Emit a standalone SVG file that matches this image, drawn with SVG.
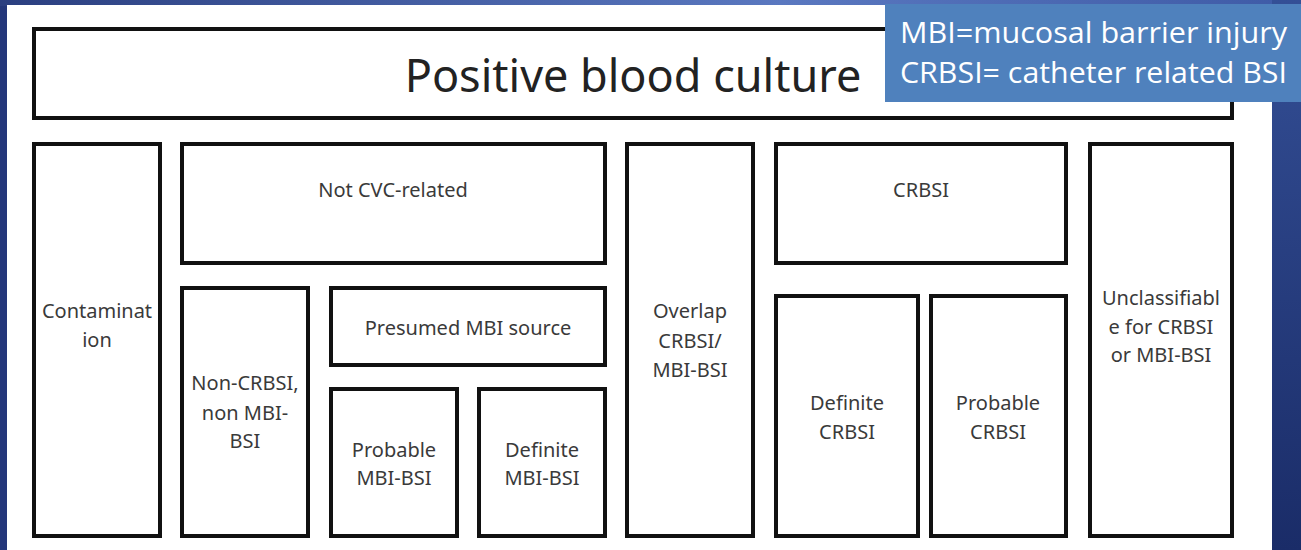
<svg xmlns="http://www.w3.org/2000/svg" width="1301" height="550" viewBox="0 0 1301 550">
  <defs>
    <linearGradient id="topbar" x1="0" y1="0" x2="1" y2="0">
      <stop offset="0" stop-color="#2b3f80"/>
      <stop offset="0.6" stop-color="#5a78c0"/>
      <stop offset="1" stop-color="#3e5aa6"/>
    </linearGradient>
    <linearGradient id="rightbar" x1="0" y1="0" x2="0" y2="1">
      <stop offset="0" stop-color="#344f96"/>
      <stop offset="1" stop-color="#1a2c68"/>
    </linearGradient>
    <style>
      .box { fill: #ffffff; stroke: #111111; stroke-width: 4; }
      .lbl { font-family: "Noto Sans", "Liberation Sans", sans-serif; font-size: 20px; fill: #3a3a3a; text-anchor: middle; }
      .title { font-family: "Noto Sans", "Liberation Sans", sans-serif; font-size: 45px; fill: #222222; text-anchor: middle; }
      .legend { font-family: "Open Sans", "Liberation Sans", sans-serif; font-size: 30px; fill: #ffffff; }
    </style>
  </defs>

  <!-- slide background -->
  <rect x="0" y="0" width="1301" height="550" fill="#24377a"/>
  <rect x="0" y="0" width="1301" height="6" fill="url(#topbar)"/>
  <rect x="1272" y="0" width="29" height="550" fill="url(#rightbar)"/>
  <rect x="7" y="5" width="1265" height="545" fill="#ffffff"/>

  <g id="connectors"></g>

  <g id="positive-blood-culture">
    <rect class="box" x="34" y="29" width="1198" height="89"/>
    <text class="title" x="633" y="92">Positive blood culture</text>
  </g>

  <g id="contamination">
    <rect class="box" x="34" y="144" width="126" height="392"/>
    <text class="lbl" x="97" y="318">Contaminat</text>
    <text class="lbl" x="97" y="347">ion</text>
  </g>

  <g id="not-cvc-related">
    <rect class="box" x="182" y="144" width="423" height="119"/>
    <text class="lbl" x="393" y="197">Not CVC-related</text>
  </g>

  <g id="non-crbsi">
    <rect class="box" x="182" y="288" width="126" height="248"/>
    <text class="lbl" x="245" y="390">Non-CRBSI,</text>
    <text class="lbl" x="245" y="420">non MBI-</text>
    <text class="lbl" x="245" y="448">BSI</text>
  </g>

  <g id="presumed-mbi">
    <rect class="box" x="331" y="288" width="274" height="77"/>
    <text class="lbl" x="468" y="335">Presumed MBI source</text>
  </g>

  <g id="probable-mbi">
    <rect class="box" x="331" y="389" width="126" height="147"/>
    <text class="lbl" x="394" y="457">Probable</text>
    <text class="lbl" x="394" y="485">MBI-BSI</text>
  </g>

  <g id="definite-mbi">
    <rect class="box" x="479" y="389" width="126" height="147"/>
    <text class="lbl" x="542" y="457">Definite</text>
    <text class="lbl" x="542" y="485">MBI-BSI</text>
  </g>

  <g id="overlap">
    <rect class="box" x="627" y="144" width="126" height="392"/>
    <text class="lbl" x="690" y="318">Overlap</text>
    <text class="lbl" x="690" y="348">CRBSI/</text>
    <text class="lbl" x="690" y="377">MBI-BSI</text>
  </g>

  <g id="crbsi">
    <rect class="box" x="776" y="144" width="290" height="119"/>
    <text class="lbl" x="921" y="197">CRBSI</text>
  </g>

  <g id="definite-crbsi">
    <rect class="box" x="776" y="296" width="142" height="240"/>
    <text class="lbl" x="847" y="410">Definite</text>
    <text class="lbl" x="847" y="439">CRBSI</text>
  </g>

  <g id="probable-crbsi">
    <rect class="box" x="931" y="296" width="135" height="240"/>
    <text class="lbl" x="998" y="410">Probable</text>
    <text class="lbl" x="998" y="439">CRBSI</text>
  </g>

  <g id="unclassifiable">
    <rect class="box" x="1090" y="144" width="142" height="392"/>
    <text class="lbl" x="1161" y="305">Unclassifiabl</text>
    <text class="lbl" x="1161" y="334">e for CRBSI</text>
    <text class="lbl" x="1161" y="362">or MBI-BSI</text>
  </g>

  <g id="legend">
    <rect x="885" y="4" width="416" height="98" fill="#4f81bd"/>
    <text class="legend" x="900" y="43" textLength="387" lengthAdjust="spacingAndGlyphs">MBI=mucosal barrier injury</text>
    <text class="legend" x="900" y="83" textLength="387" lengthAdjust="spacingAndGlyphs">CRBSI= catheter related BSI</text>
  </g>
</svg>
